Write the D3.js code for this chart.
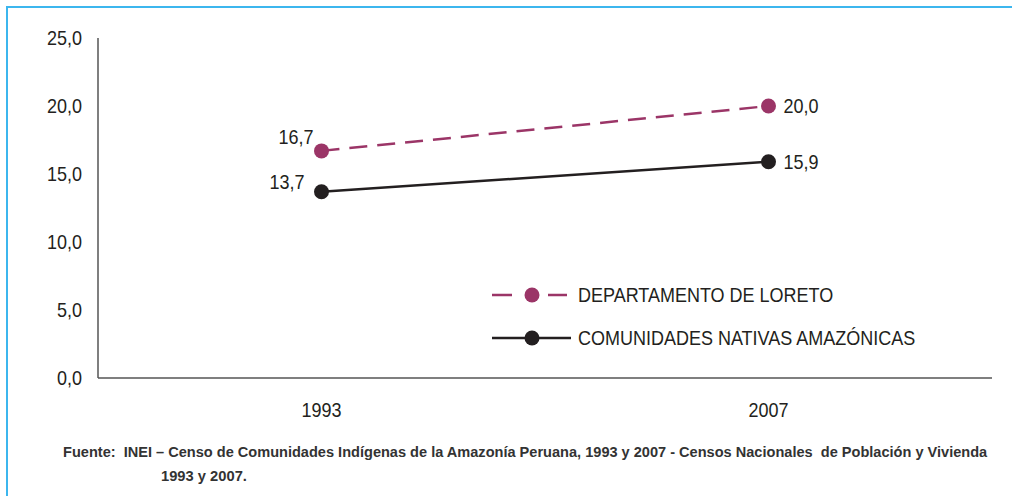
<!DOCTYPE html>
<html>
<head>
<meta charset="utf-8">
<script src="https://cdn.jsdelivr.net/npm/d3@7"></script>
<style>
  body { margin: 0; background: #fff; }
  svg text { font-family: "Liberation Sans Narrow", "Arial Narrow", "Liberation Sans", Arial, sans-serif; white-space: pre; }
</style>
</head>
<body>
<div id="chart"></div>
<script>
var years = ["1993", "2007"];
var loreto = [16.7, 20.0];
var nativas = [13.7, 15.9];
var yTicks = [0, 5, 10, 15, 20, 25];
var seriesNames = ["DEPARTAMENTO DE LORETO", "COMUNIDADES NATIVAS AMAZÓNICAS"];
var sourceLines = [
  "Fuente:  INEI – Censo de Comunidades Indígenas de la Amazonía Peruana, 1993 y 2007 - Censos Nacionales  de Población y Vivienda",
  "1993 y 2007."
];

var W = 1012, H = 496;
var margin = { top: 38, left: 98 };
var width = 992 - margin.left,
    height = 378 - margin.top;

var svg = d3.select("#chart").append("svg")
  .attr("width", W).attr("height", H);

// light blue frame
svg.append("rect")
  .attr("x", 7).attr("y", 7)
  .attr("width", W + 20).attr("height", H + 20)
  .attr("fill", "none")
  .attr("stroke", "#3cb6ee")
  .attr("stroke-width", 2);

var g = svg.append("g").attr("transform", "translate(" + margin.left + "," + margin.top + ")");

var x = d3.scalePoint().domain(years).range([0, width]).padding(0.5);
var y = d3.scaleLinear().domain([0, 25]).range([height, 0]);

var fmt = function(d) { return d3.format(".1f")(d).replace(".", ","); };

// condensed look: normal font squeezed horizontally
function ctext(sel, px, py, str, anchor) {
  return sel.append("text")
    .attr("transform", "translate(" + px + "," + py + ") scale(0.9,1)")
    .attr("dy", "0.35em")
    .attr("text-anchor", anchor || "start")
    .attr("font-size", 20).attr("fill", "#231f20")
    .text(str);
}

// axes
g.append("line").attr("x1", 0).attr("x2", 0).attr("y1", 0).attr("y2", height)
  .attr("stroke", "#555").attr("stroke-width", 1.5);
g.append("line").attr("x1", 0).attr("x2", width).attr("y1", height).attr("y2", height)
  .attr("stroke", "#555").attr("stroke-width", 1.5);

yTicks.forEach(function(t) {
  ctext(g, -16, y(t), fmt(t), "end");
});
years.forEach(function(yr) {
  ctext(g, x(yr), height + 32, yr, "middle");
});

var line = d3.line()
  .x(function(d, i) { return x(years[i]); })
  .y(function(d) { return y(d); });

var series = [
  { name: seriesNames[0], values: loreto, color: "#9b3567", dash: "18,10" },
  { name: seriesNames[1], values: nativas, color: "#231f20", dash: null }
];

series.forEach(function(s) {
  g.append("path").datum(s.values)
    .attr("d", line)
    .attr("fill", "none")
    .attr("stroke", s.color)
    .attr("stroke-width", 2.5)
    .attr("stroke-dasharray", s.dash);
  g.selectAll(null).data(s.values).enter().append("circle")
    .attr("cx", function(d, i) { return x(years[i]); })
    .attr("cy", function(d) { return y(d); })
    .attr("r", 7.5)
    .attr("fill", s.color);
});

// data labels
var labels = [
  { v: loreto[0], i: 0, dx: -8, dy: -14, anchor: "end" },
  { v: nativas[0], i: 0, dx: -17, dy: -10, anchor: "end" },
  { v: loreto[1], i: 1, dx: 15, dy: 0, anchor: "start" },
  { v: nativas[1], i: 1, dx: 15, dy: 0, anchor: "start" }
];
labels.forEach(function(d) {
  ctext(g, x(years[d.i]) + d.dx, y(d.v) + d.dy, fmt(d.v), d.anchor);
});

// legend
var legend = svg.append("g").attr("transform", "translate(492,295)");
series.forEach(function(s, k) {
  var row = legend.append("g").attr("transform", "translate(0," + (k * 43) + ")");
  row.append("line").attr("x1", 0).attr("x2", s.dash ? 75 : 79).attr("y1", 0).attr("y2", 0)
    .attr("stroke", s.color).attr("stroke-width", 2.5)
    .attr("stroke-dasharray", s.dash ? "20,36,19" : null);
  row.append("circle").attr("cx", 40).attr("cy", 0).attr("r", 7.5).attr("fill", s.color);
  ctext(row, 86, 0, s.name, "start");
});

// source note, squeezed to fit the reference width
function note(str, px, py, targetW) {
  var t = svg.append("text")
    .attr("font-size", 15.5).attr("font-weight", "bold").attr("fill", "#333")
    .text(str);
  var k = targetW / t.node().getComputedTextLength();
  t.attr("transform", "translate(" + px + "," + py + ") scale(" + k + ",1)");
}
note(sourceLines[0], 63, 457, 925);
note(sourceLines[1], 161, 481, 86);
</script>
</body>
</html>
